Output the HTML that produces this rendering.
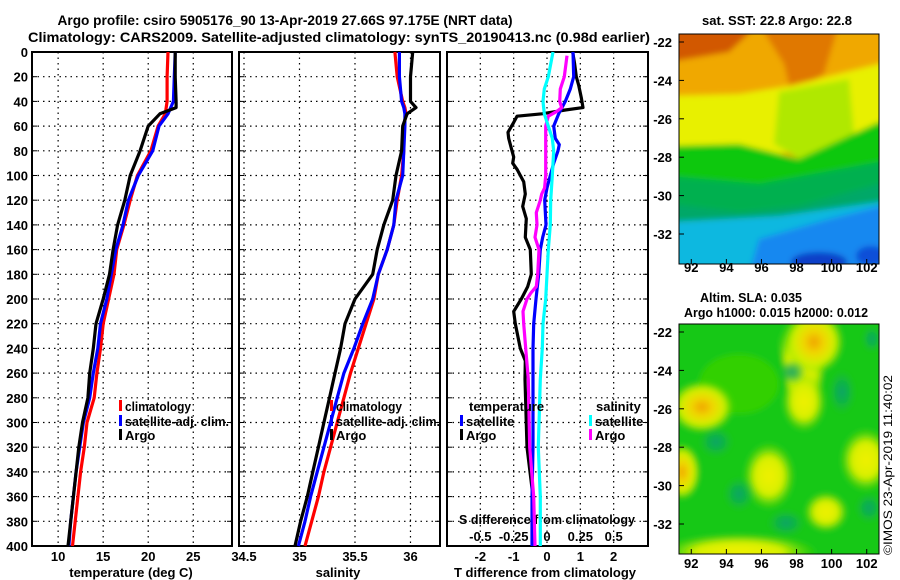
<!DOCTYPE html>
<html><head><meta charset="utf-8">
<style>
html,body{margin:0;padding:0;background:#fff;}
svg{display:block;}
text{font-family:"Liberation Sans",Arial,sans-serif;font-weight:bold;fill:#000;}
</style></head>
<body>
<svg id="chart" width="900" height="580" viewBox="0 0 900 580" xmlns="http://www.w3.org/2000/svg">
<defs>
<filter id="blur3" x="-5%" y="-5%" width="110%" height="110%"><feGaussianBlur stdDeviation="3"/></filter>
<clipPath id="clipTop"><rect x="0" y="0" width="200" height="230"/></clipPath>
<clipPath id="clipBot"><rect x="0" y="0" width="200" height="230"/></clipPath>
<radialGradient id="gY"><stop offset="0" stop-color="#f0f000"/><stop offset="0.55" stop-color="#d8f000"/><stop offset="1" stop-color="#60dc00" stop-opacity="0"/></radialGradient>
<radialGradient id="gO"><stop offset="0" stop-color="#f0a000"/><stop offset="0.35" stop-color="#f0d800"/><stop offset="0.7" stop-color="#d0f000"/><stop offset="1" stop-color="#60dc00" stop-opacity="0"/></radialGradient>
<radialGradient id="gT"><stop offset="0" stop-color="#10a070"/><stop offset="0.6" stop-color="#10b050" stop-opacity="0.6"/><stop offset="1" stop-color="#10c820" stop-opacity="0"/></radialGradient>
</defs>
<rect x="0" y="0" width="900" height="580" fill="#fff"/>

<text x="285" y="25" font-size="14" text-anchor="middle" textLength="455" lengthAdjust="spacingAndGlyphs">Argo profile: csiro 5905176_90 13-Apr-2019 27.66S 97.175E (NRT data)</text>
<text x="339" y="42" font-size="14" text-anchor="middle" textLength="622" lengthAdjust="spacingAndGlyphs">Climatology: CARS2009. Satellite-adjusted climatology: synTS_20190413.nc (0.98d earlier)</text>

<g id="axes"></g>
<g id="series"></g>
<g id="legends"></g>

<g transform="translate(679,34)">
<g clip-path="url(#clipTop)">
<g filter="url(#blur3)">
<rect x="-10" y="-10" width="220" height="250" fill="#f0a800"/>
<polygon points="-10,-10 80,-10 50,18 -10,28" fill="#d25800"/>
<polygon points="80,-10 160,-10 145,40 112,60 105,30" fill="#e07800"/>
<polygon points="-10,62 60,60 110,52 200,30 210,30 210,100 -10,140" fill="#e8f000"/>
<polygon points="100,58 170,45 175,100 120,125 95,110" fill="#b0e800"/>
<polygon points="-10,112 60,110 120,125 200,88 210,88 210,240 -10,240" fill="#10c810"/>
<polygon points="-10,142 80,150 200,128 210,128 210,240 -10,240" fill="#00b050"/>
<polygon points="-10,170 60,178 120,172 200,150 210,150 210,240 -10,240" fill="#00a868"/>
<polygon points="-10,188 100,182 200,168 210,168 210,240 -10,240" fill="#10b8e0"/>
<polygon points="80,205 150,185 210,170 210,240 70,240" fill="#1888f0"/>
<ellipse cx="140" cy="228" rx="28" ry="10" fill="#0840c8"/>
<ellipse cx="192" cy="222" rx="15" ry="10" fill="#1050d8"/>
</g></g>
<rect x="0" y="0" width="200" height="230" fill="none" stroke="#000" stroke-width="1"/>
</g>

<g transform="translate(679,324)">
<g clip-path="url(#clipBot)">
<g filter="url(#blur3)">
<rect x="-10" y="-10" width="220" height="250" fill="#14c814"/>
<ellipse cx="60" cy="60" rx="40" ry="30" fill="#30d000"/>
<polygon points="95,-10 150,-10 145,40 135,95 115,95 105,40" fill="url(#gY)"/>
<ellipse cx="135" cy="18" rx="30" ry="32" fill="url(#gO)"/>
<ellipse cx="125" cy="78" rx="22" ry="30" fill="url(#gY)"/>
<ellipse cx="23" cy="83" rx="32" ry="26" fill="url(#gO)"/>
<ellipse cx="90" cy="152" rx="26" ry="34" fill="url(#gY)"/>
<ellipse cx="187" cy="136" rx="26" ry="32" fill="url(#gY)"/>
<ellipse cx="3" cy="148" rx="18" ry="28" fill="url(#gO)"/>
<ellipse cx="147" cy="188" rx="22" ry="20" fill="url(#gY)"/>
<ellipse cx="60" cy="228" rx="80" ry="18" fill="url(#gY)"/>
<ellipse cx="37" cy="118" rx="18" ry="16" fill="url(#gT)"/>
<ellipse cx="163" cy="68" rx="14" ry="24" fill="url(#gT)"/>
<ellipse cx="107" cy="199" rx="20" ry="14" fill="url(#gT)"/>
<ellipse cx="190" cy="184" rx="14" ry="16" fill="url(#gT)"/>
<ellipse cx="113" cy="48" rx="14" ry="12" fill="url(#gT)"/>
<ellipse cx="193" cy="15" rx="10" ry="14" fill="url(#gT)"/>
<ellipse cx="60" cy="170" rx="16" ry="18" fill="url(#gT)"/>
</g></g>
<rect x="0" y="0" width="200" height="230" fill="none" stroke="#000" stroke-width="1"/>
</g>

<text x="777" y="25" font-size="13" text-anchor="middle" textLength="150" lengthAdjust="spacingAndGlyphs">sat. SST: 22.8 Argo: 22.8</text>
<text x="751" y="302" font-size="13" text-anchor="middle" textLength="102" lengthAdjust="spacingAndGlyphs">Altim. SLA: 0.035</text>
<text x="776" y="317" font-size="13" text-anchor="middle" textLength="184" lengthAdjust="spacingAndGlyphs">Argo h1000: 0.015 h2000: 0.012</text>
<text transform="translate(892,555) rotate(-90)" font-size="12" style="font-weight:normal" textLength="180" lengthAdjust="spacingAndGlyphs">©IMOS 23-Apr-2019 11:40:02</text>
<g id="maptick"></g>
</svg>
<script>
const depthTicks = [0,20,40,60,80,100,120,140,160,180,200,220,240,260,280,300,320,340,360,380,400];
const tempTicks = [10,15,20,25];
const salTicks = [34.5,35,35.5,36];
const salTickLabels = ["34.5","35","35.5","36"];
const tdiffTicks = [-2,-1,0,1,2];
const sdiffTicks = [-0.5,-0.25,0,0.25,0.5];
const sdiffTickLabels = ["-0.5","-0.25","0","0.25","0.5"];
const lonTicks = [92,94,96,98,100,102];
const latTicks = [-22,-24,-26,-28,-30,-32];

const profDepth = [0,20,40,45,50,60,80,100,120,140,160,180,200,220,240,260,280,300,320,340,360,380,400];
const tempClim  = [22.2,22.1,22.1,22.0,21.9,21.1,20.3,18.8,18.0,17.3,16.5,16.2,15.6,15.0,14.7,14.3,14.0,13.2,12.9,12.5,12.2,11.9,11.6];
const tempSat   = [23.0,22.9,22.8,22.5,22.2,21.2,20.5,18.9,17.8,17.2,16.4,15.9,15.4,14.7,14.4,13.9,13.5,12.8,12.4,12.0,11.7,11.4,11.2];
const tempArgo  = [23.0,23.0,23.1,23.1,21.3,20.0,19.1,18.0,17.4,16.6,16.1,15.7,15.0,14.2,13.9,13.5,13.3,12.7,12.3,12.0,11.7,11.4,11.1];
const salClim   = [35.86,35.88,35.93,35.95,35.96,35.94,35.94,35.92,35.88,35.85,35.79,35.71,35.67,35.60,35.53,35.46,35.40,35.34,35.28,35.22,35.17,35.11,35.05];
const salSat    = [35.90,35.90,35.92,35.94,35.95,35.95,35.94,35.93,35.87,35.85,35.79,35.71,35.66,35.57,35.49,35.40,35.34,35.28,35.22,35.16,35.10,35.05,34.99];
const salArgo   = [36.02,36.00,36.00,36.05,35.97,35.93,35.92,35.87,35.84,35.76,35.70,35.66,35.50,35.41,35.37,35.32,35.27,35.22,35.17,35.12,35.07,35.01,34.96];

const diffDepth = [0,10,20,27,37,45,47,50,52,57,65,70,80,85,90,95,105,115,125,135,150,160,180,190,200,210,220,240,250,265,320,360,400];
const tdiffArgo = [0.77,0.83,0.88,0.95,1.03,1.08,0.55,-0.15,-0.9,-1.0,-1.17,-1.15,-1.05,-1.0,-1.03,-0.9,-0.7,-0.65,-0.73,-0.62,-0.65,-0.5,-0.47,-0.58,-0.77,-1.0,-0.95,-0.8,-0.65,-0.66,-0.6,-0.42,-0.39];
const satDepth  = [0,20,30,40,50,60,70,75,80,90,100,110,120,140,150,160,180,200,220,240,265,320,360,400];
const tdiffSat  = [0.78,0.8,0.7,0.55,0.35,0.2,0.25,0.37,0.33,0.2,0.1,0.0,-0.07,-0.03,-0.13,-0.2,-0.25,-0.33,-0.4,-0.42,-0.42,-0.42,-0.45,-0.45];
const sArgoDepth= [3,20,30,40,45,48,52,60,80,100,110,115,120,130,140,150,160,180,190,195,200,210,220,240,265,320,360,400];
const sdiffArgo = [0.15,0.13,0.1,0.095,0.11,0.075,0.01,-0.01,-0.01,-0.01,-0.018,-0.04,-0.05,-0.08,-0.075,-0.09,-0.06,-0.07,-0.08,-0.12,-0.15,-0.18,-0.175,-0.16,-0.14,-0.13,-0.1,-0.09];
const sSatDepth = [0,20,30,40,50,60,70,80,100,120,140,160,180,200,220,240,265,320,360,400];
const sdiffSat  = [0.045,0.01,-0.02,-0.03,-0.02,0.01,0.04,0.05,0.04,0.028,0.025,0.01,0.0,-0.01,-0.03,-0.035,-0.05,-0.065,-0.05,-0.05];

const NS = 'http://www.w3.org/2000/svg';
const Y0 = 52, Y1 = 546;
function yD(d){ return Y0 + (d/400)*(Y1-Y0); }
const P1 = {x0:32, x1:232, lo:7.1, hi:29.3};
const P2 = {x0:239, x1:440, lo:34.455, hi:36.266};
const P3 = {x0:447, x1:648, lo:-3.0, hi:3.03};
function xP(p,v){ return p.x0 + (v-p.lo)/(p.hi-p.lo)*(p.x1-p.x0); }
function xS(v){ return xP(P3, v*4); }

function mk(tag, attrs, parent){
  const e = document.createElementNS(NS, tag);
  for (const k in attrs) e.setAttribute(k, attrs[k]);
  parent.appendChild(e);
  return e;
}
const axes = document.getElementById('axes');
const series = document.getElementById('series');
const legends = document.getElementById('legends');

function panel(p, name, ticks, labels, title, titleX){
  const g = mk('g', {}, axes);
  
  
  depthTicks.forEach(d=>{
    if(d===0||d===400) return;
    const l = mk('line',{x1:p.x0,x2:p.x1,y1:yD(d),y2:yD(d),stroke:'#000','stroke-width':1.2,'stroke-dasharray':'1.5,4'},g);
    
    
    mk('line',{x1:p.x0,x2:p.x0+5,y1:yD(d),y2:yD(d),stroke:'#000','stroke-width':1},g);
    mk('line',{x1:p.x1-5,x2:p.x1,y1:yD(d),y2:yD(d),stroke:'#000','stroke-width':1},g);
  });
  ticks.forEach((t,i)=>{
    const x = xP(p,t);
    const l = mk('line',{x1:x,x2:x,y1:Y0,y2:Y1,stroke:'#000','stroke-width':1.2,'stroke-dasharray':'1.5,4'},g);
    
    
    const tx = mk('text',{x:x,y:561,'font-size':13,'text-anchor':'middle'},g);
    tx.textContent = labels[i];
    
    
  });
  const fr = mk('rect',{x:p.x0,y:Y0,width:p.x1-p.x0,height:Y1-Y0,fill:'none',stroke:'#000','stroke-width':2},g);
  
  
  const at = mk('text',{x:titleX,y:577,'font-size':13,'text-anchor':'middle'},g);
  at.textContent = title;
  
  
}
panel(P1,'temperature-panel',tempTicks,tempTicks.map(String),'temperature (deg C)',131);
panel(P2,'salinity-panel',salTicks,salTickLabels,'salinity',338);
panel(P3,'difference-panel',tdiffTicks,tdiffTicks.map(String),'T difference from climatology',545);

depthTicks.forEach(d=>{
  const t = mk('text',{x:28,y:yD(d)+5,'font-size':13,'text-anchor':'end'},axes);
  t.textContent = String(d);
  
  
});
{
  const t = mk('text',{x:547,y:524,'font-size':13,'text-anchor':'middle',textLength:176,lengthAdjust:'spacingAndGlyphs'},axes);
  t.textContent = 'S difference from climatology';
  
  
  sdiffTicks.forEach((s,i)=>{
    const u = mk('text',{x:xS(s),y:541,'font-size':13,'text-anchor':'middle'},axes);
    u.textContent = sdiffTickLabels[i];
    
    
  });
}

function line(depths, vals, fx, color, name){
  const pts = depths.map((d,i)=> fx(vals[i]).toFixed(1)+','+yD(d).toFixed(1)).join(' ');
  const e = mk('polyline',{points:pts,fill:'none',stroke:color,'stroke-width':3.2,'stroke-linejoin':'round'},series);
  
  
}
line(profDepth,tempClim,v=>xP(P1,v),'#ff0000','temperature-climatology-line');
line(profDepth,tempSat,v=>xP(P1,v),'#0000ff','temperature-satellite-line');
line(profDepth,tempArgo,v=>xP(P1,v),'#000000','temperature-argo-line');
line(profDepth,salClim,v=>xP(P2,v),'#ff0000','salinity-climatology-line');
line(profDepth,salSat,v=>xP(P2,v),'#0000ff','salinity-satellite-line');
line(profDepth,salArgo,v=>xP(P2,v),'#000000','salinity-argo-line');
line(diffDepth,tdiffArgo,v=>xP(P3,v),'#000000','t-diff-argo-line');
line(satDepth,tdiffSat,v=>xP(P3,v),'#0000ff','t-diff-satellite-line');
line(sArgoDepth,sdiffArgo,xS,'#ff00ff','s-diff-argo-line');
line(sSatDepth,sdiffSat,xS,'#00ffff','s-diff-satellite-line');

function legEntry(x,y,color,label,name,len){
  const g = mk('g',{},legends);
  
  
  mk('rect',{x:x,y:y-11,width:3,height:11,fill:color},g);
  const attrs = {x:x+6,y:y,'font-size':13};
  if (len) { attrs.textLength = len; attrs.lengthAdjust = 'spacingAndGlyphs'; }
  const t = mk('text',attrs,g);
  t.textContent = label;
}
legEntry(119,411,'#ff0000','climatology','legend-climatology',66);
legEntry(119,426,'#0000ff','satellite-adj. clim.','legend-satellite-adj',104);
legEntry(119,440,'#000000','Argo','legend-argo',0);
legEntry(330,411,'#ff0000','climatology','legend-climatology-sal',66);
legEntry(330,426,'#0000ff','satellite-adj. clim.','legend-satellite-adj-sal',104);
legEntry(330,440,'#000000','Argo','legend-argo-sal',0);
{
  const t1 = mk('text',{x:469,y:411,'font-size':13},legends);
  t1.textContent='temperature';
  
  
  const t2 = mk('text',{x:596,y:411,'font-size':13},legends);
  t2.textContent='salinity';
  
  
}
legEntry(460,426,'#0000ff','satellite','legend-t-satellite',0);
legEntry(460,440,'#000000','Argo','legend-t-argo',0);
legEntry(589,426,'#00ffff','satellite','legend-s-satellite',0);
legEntry(589,440,'#ff00ff','Argo','legend-s-argo',0);

const mt = document.getElementById('maptick');
function mapAxes(top, lonY, name){
  const g = mk('g',{},mt);
  
  
  const lonX = v => 679 + (v-91.3)/(102.7-91.3)*200;
  const latY = v => top + 8 + (-22 - v)/10*192;
  lonTicks.forEach(v=>{
    const t = mk('text',{x:lonX(v),y:lonY,'font-size':13,'text-anchor':'middle'},g);
    t.textContent = String(v);
    mk('line',{x1:lonX(v),x2:lonX(v),y1:top+230,y2:top+225,stroke:'#000'},g);
  });
  latTicks.forEach(v=>{
    const t = mk('text',{x:672,y:latY(v)+5,'font-size':13,'text-anchor':'end'},g);
    t.textContent = String(v);
    mk('line',{x1:679,x2:684,y1:latY(v),y2:latY(v),stroke:'#000'},g);
  });
}
mapAxes(34,272,'sst-map-axes');
mapAxes(324,568,'sla-map-axes');
</script>
</body></html>
